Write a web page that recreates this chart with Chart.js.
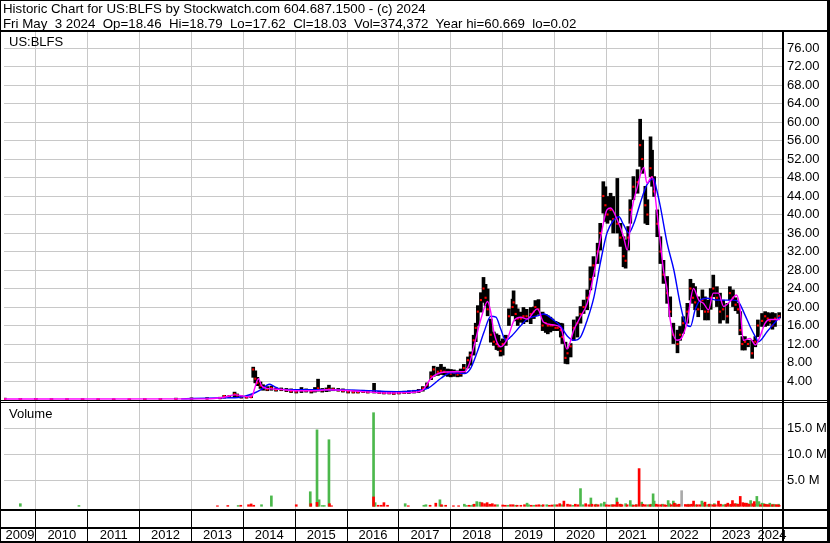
<!DOCTYPE html>
<html>
<head>
  <title>US:BLFS Historic Chart</title>
  <script src="https://cdn.jsdelivr.net/npm/chart.js"></script>
  <style>
    body { margin: 0; background: #fff; font-family: "Liberation Sans", Arial, sans-serif; }
    .wrap { position: relative; width: 830px; height: 543px; overflow: hidden; }
    canvas { position: absolute; left: 0; top: 0; }
    .hdr { position: absolute; left: 3px; top: 1px; font-size: 13.3px; line-height: 15px; white-space: pre; color: #000; }
    .lbl { position: absolute; font-size: 13px; line-height: 15px; color: #000; }
  </style>
</head>
<body>
  <div class="wrap">
    <canvas id="chart" width="830" height="543"></canvas>
    <div class="hdr">Historic Chart for US:BLFS by Stockwatch.com 604.687.1500 - (c) 2024
Fri May  3 2024  Op=18.46  Hi=18.79  Lo=17.62  Cl=18.03  Vol=374,372  Year hi=60.669  lo=0.02</div>
    <div class="lbl" style="left:9px; top:34px">US:BLFS</div>
    <div class="lbl" style="left:9px; top:406px">Volume</div>
  </div>

  <script>
    // visible date range (decimal years)
    const X_MIN = 2009.385, X_MAX = 2024.385;
    const yearLabels = ['2009','2010','2011','2012','2013','2014','2015','2016','2017','2018','2019','2020','2021','2022','2023','2024'];
    const priceTicks = [4, 8, 12, 16, 20, 24, 28, 32, 36, 40, 44, 48, 52, 56, 60, 64, 68, 72, 76];
    const volumeTicks = [5, 10, 15]; // millions

    // price bars: date, high, low, close
    const barYears = [2009.40,2009.70,2010.00,2010.30,2010.60,2010.90,2011.20,2011.50,2011.80,2012.10,2012.40,2012.70,2013.00,2013.30,2013.55,
      2013.63,2013.73,2013.83,2013.88,2013.96,2014.06,2014.15,2014.19,2014.23,2014.27,2014.33,2014.38,2014.46,2014.54,2014.63,2014.73,2014.83,2014.92,
      2015.02,2015.12,2015.21,2015.31,2015.38,2015.44,2015.52,2015.60,2015.65,2015.73,2015.83,2015.92,2016.02,2016.12,2016.21,2016.31,2016.40,2016.52,
      2016.62,2016.71,2016.81,2016.90,2017.00,2017.10,2017.19,2017.29,2017.38,2017.46,2017.54,2017.62,2017.67,2017.75,2017.81,2017.87,2017.94,
      2018.00,2018.06,2018.13,2018.19,2018.25,2018.33,2018.38,2018.44,2018.48,2018.52,2018.58,2018.63,2018.67,2018.71,2018.77,2018.83,2018.88,2018.92,2018.96,
      2019.00,2019.06,2019.12,2019.19,2019.21,2019.25,2019.29,2019.35,2019.40,2019.46,2019.54,2019.60,2019.63,2019.69,2019.77,2019.83,2019.87,2019.92,2019.96,
      2020.02,2020.06,2020.12,2020.15,2020.21,2020.25,2020.31,2020.37,2020.44,2020.50,2020.56,2020.63,2020.69,2020.75,2020.83,2020.88,2020.94,2020.98,
      2021.02,2021.08,2021.13,2021.21,2021.27,2021.33,2021.37,2021.42,2021.46,2021.52,2021.60,2021.65,2021.69,2021.75,2021.79,2021.85,2021.88,2021.92,2021.98,
      2022.04,2022.10,2022.17,2022.23,2022.29,2022.37,2022.42,2022.48,2022.56,2022.62,2022.67,2022.71,2022.77,2022.85,2022.90,2022.96,
      2023.01,2023.06,2023.13,2023.19,2023.25,2023.33,2023.38,2023.44,2023.49,2023.54,2023.58,2023.62,2023.67,2023.73,2023.81,2023.87,2023.92,
      2024.00,2024.06,2024.11,2024.15,2024.20,2024.25,2024.33];
    const barHigh = [0.30,0.25,0.25,0.20,0.20,0.20,0.18,0.15,0.15,0.20,0.25,0.30,0.35,0.40,0.50,
      0.90,0.90,1.60,1.20,0.80,0.70,0.80,7.00,6.20,4.80,3.80,3.20,2.80,2.90,2.50,2.50,2.40,2.30,
      2.20,2.60,2.30,2.20,2.60,4.40,2.40,2.50,3.10,2.50,2.40,2.30,2.00,2.00,1.90,2.00,1.90,3.50,
      1.80,1.70,1.70,1.60,1.70,1.80,1.90,2.00,2.20,2.80,3.60,6.00,7.20,7.00,7.60,7.00,6.60,
      6.50,6.40,6.20,6.60,7.60,9.20,10.30,13.90,16.50,20.30,23.10,26.40,24.90,23.90,17.40,14.60,14.20,13.90,12.60,
      13.10,13.90,19.60,21.70,23.50,20.50,19.60,18.90,19.90,19.50,19.90,20.00,21.40,21.60,18.90,18.40,18.10,17.80,17.40,
      16.90,16.70,16.50,16.40,12.40,11.00,12.10,17.20,17.90,20.10,21.50,23.70,28.70,30.90,33.80,38.10,47.10,46.00,
      43.90,44.60,43.90,47.80,38.10,35.20,34.50,37.40,43.20,48.20,49.70,60.60,56.10,46.10,43.20,56.80,53.90,48.20,41.00,
      35.20,30.10,26.60,22.20,16.50,15.00,15.80,17.90,20.80,26.00,25.10,24.40,22.20,23.70,22.20,21.50,
      24.00,26.90,24.40,23.00,21.50,20.80,24.40,23.70,22.00,20.80,19.00,13.60,13.60,12.80,12.80,13.60,17.20,
      18.60,19.00,18.80,18.60,18.80,18.60,18.79];
    const barLow = [0.05,0.05,0.04,0.03,0.03,0.02,0.02,0.02,0.02,0.02,0.03,0.05,0.08,0.10,0.15,
      0.30,0.40,0.60,0.50,0.30,0.30,0.40,4.80,3.60,3.00,2.40,2.00,1.90,2.00,1.80,1.90,1.70,1.50,
      1.40,1.50,1.60,1.40,1.60,1.80,1.60,1.70,1.80,1.90,1.80,1.60,1.40,1.40,1.40,1.50,1.40,1.40,
      1.30,1.20,1.20,1.10,1.20,1.30,1.30,1.40,1.50,1.80,2.40,4.30,5.00,5.20,5.40,5.30,5.00,
      4.90,5.00,4.90,5.00,5.60,6.80,7.40,9.60,12.50,16.00,18.90,21.00,20.30,18.10,12.40,11.70,10.80,10.60,9.40,
      9.60,11.70,16.00,18.10,19.00,17.00,16.00,16.70,16.40,16.80,16.40,17.50,18.10,18.40,14.90,14.50,14.20,14.60,14.90,
      14.90,14.90,13.50,12.10,7.80,7.70,9.20,12.80,13.50,16.50,18.60,19.40,23.70,26.60,29.40,32.30,40.30,38.50,
      38.10,38.80,36.00,36.00,33.10,28.70,28.40,32.30,38.10,43.20,44.60,50.40,48.90,38.10,37.80,48.20,46.10,43.90,35.20,
      29.40,25.10,20.80,17.90,12.10,10.10,12.80,14.30,16.50,21.50,20.80,19.40,17.90,19.40,17.20,17.20,
      19.50,22.20,20.10,16.50,17.20,16.50,21.50,20.10,19.20,18.60,14.00,10.70,10.70,11.40,8.90,11.40,13.60,
      15.80,15.80,16.00,16.50,15.20,15.80,17.62];
    const barClose = [0.10,0.10,0.08,0.08,0.06,0.05,0.05,0.05,0.05,0.06,0.08,0.10,0.15,0.20,0.30,
      0.75,0.70,1.20,0.90,0.50,0.45,0.50,6.50,4.50,3.60,3.00,2.50,2.20,2.50,2.10,2.20,2.00,1.80,
      1.70,2.00,1.90,1.80,2.00,2.40,2.00,2.10,2.20,2.20,2.00,1.90,1.70,1.60,1.60,1.70,1.60,1.80,
      1.50,1.40,1.40,1.30,1.40,1.50,1.60,1.70,1.90,2.40,3.20,5.00,6.50,6.00,6.20,6.00,5.80,
      5.60,5.80,5.40,5.60,6.80,8.50,9.60,12.80,15.50,19.00,21.50,24.00,22.00,19.50,14.00,12.50,12.00,11.50,10.50,
      12.00,13.00,18.00,20.00,21.00,18.50,17.50,17.50,18.00,18.00,18.50,19.00,20.00,19.50,16.00,16.50,16.00,16.00,16.00,
      15.50,15.50,15.00,13.50,9.00,10.00,11.50,15.50,16.50,18.50,20.00,22.00,26.00,29.00,32.00,36.00,44.00,42.00,
      40.00,41.00,39.00,38.00,35.00,31.00,30.00,35.00,41.00,46.00,47.00,55.00,52.00,42.00,40.00,50.00,48.00,45.00,38.00,
      32.00,27.00,23.00,19.00,14.00,12.00,14.00,16.50,19.00,24.00,22.00,21.00,19.50,21.50,19.00,19.00,
      22.00,24.00,22.00,19.00,19.50,18.00,23.00,22.00,20.50,19.50,15.00,12.00,12.50,12.00,10.00,12.50,16.00,
      17.00,18.00,17.50,17.00,16.00,17.50,18.03];

    // moving averages
    const maFastYears = [2009.39,2013.30,2013.60,2013.85,2014.10,2014.17,2014.22,2014.29,2014.35,2014.45,2014.70,2015.00,2015.40,2015.60,2015.90,
      2016.30,2016.80,2017.20,2017.45,2017.62,2017.80,2018.06,2018.26,2018.35,2018.45,2018.58,2018.71,2018.77,2018.83,2018.96,
      2019.09,2019.22,2019.35,2019.47,2019.67,2019.79,2019.99,2020.12,2020.24,2020.37,2020.50,2020.63,2020.76,2020.88,
      2021.01,2021.08,2021.21,2021.33,2021.40,2021.49,2021.59,2021.72,2021.78,2021.88,2021.97,2022.04,2022.10,2022.17,2022.23,
      2022.36,2022.46,2022.55,2022.68,2022.78,2022.87,2022.97,2023.06,2023.16,2023.26,2023.38,2023.51,2023.58,2023.64,2023.77,
      2023.87,2023.96,2024.06,2024.15,2024.35];
    const maFast = [0.10,0.15,0.45,1.00,0.60,0.80,2.50,4.50,3.00,2.40,2.20,1.90,1.90,2.10,2.00,
      1.70,1.40,1.50,2.00,4.60,5.80,6.00,6.00,7.50,11.70,17.40,21.20,18.90,14.60,11.40,
      13.10,17.10,17.80,17.40,19.60,16.70,16.10,15.50,10.90,15.00,17.90,20.80,27.30,34.50,
      41.00,41.40,38.80,35.20,32.30,41.00,45.70,50.20,46.80,48.20,41.00,33.80,28.00,23.70,17.20,
      12.80,13.50,16.50,24.00,21.50,20.80,19.40,23.00,23.00,20.10,21.20,22.60,19.40,12.80,13.20,
      11.80,13.60,16.50,17.30,17.30];
    const maSlowYears = [2012.80,2013.50,2013.90,2014.19,2014.35,2014.50,2014.60,2014.73,2015.50,2016.01,2016.97,2017.29,2017.55,2017.81,
      2018.00,2018.26,2018.38,2018.51,2018.64,2018.77,2018.87,2018.96,2019.06,2019.15,2019.35,2019.47,2019.67,2019.79,2019.99,
      2020.12,2020.24,2020.37,2020.50,2020.63,2020.76,2020.88,2021.01,2021.14,2021.24,2021.33,2021.43,2021.53,2021.65,2021.78,
      2021.91,2021.97,2022.04,2022.17,2022.30,2022.42,2022.52,2022.62,2022.71,2022.81,2022.94,2023.13,2023.45,2023.54,2023.67,
      2023.77,2023.87,2023.93,2024.10,2024.29,2024.35];
    const maSlow = [0.15,0.35,0.45,1.30,2.20,3.30,2.80,2.20,2.10,2.05,1.70,1.90,2.40,4.60,
      5.80,5.60,6.70,10.30,14.60,18.00,17.80,15.30,12.80,13.50,16.00,17.40,18.10,18.50,17.10,
      15.80,13.80,12.80,13.50,17.20,22.20,29.40,36.00,38.80,39.50,37.80,36.00,38.10,42.40,46.40,
      47.80,45.30,41.70,33.80,28.00,20.80,16.50,15.80,19.40,21.50,21.90,21.50,21.50,21.20,18.30,
      15.80,13.60,12.50,14.70,17.20,17.90];

    // volume in millions, split by up / down / unchanged sessions
    const upVolYears = [2009.70,2010.83,2013.90,2014.35,2014.54,2015.29,2015.42,2015.46,2015.52,2015.56,2015.65,2016.51,2016.54,2017.12,2017.48,
      2017.52,2017.79,2017.83,2018.26,2018.30,2018.39,2018.43,2018.50,2018.56,2018.70,2018.90,2019.10,2019.25,2019.47,2019.50,2019.60,2019.75,
      2019.85,2020.00,2020.15,2020.35,2020.50,2020.55,2020.70,2020.80,2020.90,2020.96,2021.10,2021.20,2021.28,2021.37,2021.46,2021.50,2021.58,
      2021.68,2021.80,2021.86,2021.90,2021.92,2022.08,2022.19,2022.22,2022.29,2022.33,2022.40,2022.58,2022.72,2022.84,2022.88,2022.95,
      2023.00,2023.08,2023.25,2023.30,2023.38,2023.50,2023.55,2023.72,2023.78,2023.86,2023.90,2023.94,2024.00,2024.03,2024.08,2024.15,
      2024.18,2024.22,2024.25,2024.32];
    const upVol = [0.5,0.15,0.15,0.3,2.0,2.8,14.7,1.25,0.15,0.15,12.8,18.0,0.7,0.5,0.2,
      0.3,1.25,0.15,0.4,0.15,0.15,0.3,0.9,0.8,0.3,0.3,0.2,0.2,0.6,0.3,0.2,0.2,
      0.3,0.3,0.3,0.2,3.4,0.3,1.6,0.4,0.5,0.8,0.3,1.6,0.4,0.5,1.1,0.3,0.3,
      0.8,0.3,0.4,2.4,1.0,0.4,1.1,0.5,1.0,0.5,0.3,0.4,0.3,1.0,0.6,0.3,
      0.4,0.5,0.3,0.4,0.3,0.5,0.4,0.5,1.1,0.4,1.9,0.9,0.6,0.5,0.4,0.6,
      0.3,0.4,0.3,0.4];
    const downVolYears = [2013.50,2013.70,2013.95,2014.10,2014.15,2014.20,2015.02,2015.30,2015.42,2015.66,2015.70,2016.51,2016.60,2016.66,2016.71,
      2016.78,2017.18,2017.60,2017.71,2017.82,2017.90,2018.05,2018.15,2018.35,2018.45,2018.60,2018.65,2018.70,2018.75,2018.80,2018.85,
      2019.00,2019.05,2019.15,2019.20,2019.28,2019.35,2019.42,2019.55,2019.65,2019.70,2019.78,2019.90,2019.95,2020.05,2020.10,2020.18,
      2020.25,2020.30,2020.40,2020.45,2020.60,2020.66,2020.72,2020.78,2020.84,2021.00,2021.05,2021.12,2021.16,2021.21,2021.26,2021.30,
      2021.40,2021.52,2021.57,2021.63,2021.70,2021.75,2021.84,2021.96,2022.00,2022.05,2022.12,2022.15,2022.25,2022.31,2022.36,2022.40,
      2022.52,2022.56,2022.60,2022.64,2022.68,2022.75,2022.80,2022.90,2022.98,2023.05,2023.10,2023.16,2023.20,2023.30,2023.34,2023.40,
      2023.43,2023.47,2023.53,2023.58,2023.63,2023.66,2023.70,2023.75,2023.82,2023.85,2023.97,2024.05,2024.10,2024.13,2024.20,2024.27,
      2024.30,2024.33];
    const downVol = [0.1,0.15,0.2,0.3,0.45,0.2,0.3,0.5,0.75,0.5,0.1,1.8,0.2,0.2,0.7,
      0.2,0.1,0.2,0.6,0.3,0.2,0.1,0.1,0.2,0.4,0.7,0.5,0.7,0.4,0.5,0.3,
      0.25,0.2,0.3,0.3,0.2,0.2,0.3,0.2,0.25,0.3,0.3,0.2,0.25,0.3,0.5,1.0,
      0.4,0.3,0.4,0.3,0.5,0.3,0.4,0.3,0.3,0.3,0.25,0.3,0.3,0.8,0.4,0.3,
      0.3,0.2,0.3,7.25,0.4,0.3,0.3,0.4,0.3,0.3,0.3,0.2,0.3,0.6,0.3,0.4,
      0.35,0.3,0.3,0.4,1.0,0.3,0.3,0.8,0.4,0.3,0.3,1.0,0.4,0.3,0.6,0.4,
      1.1,0.5,0.4,1.9,0.7,0.6,0.6,0.4,0.5,0.9,0.3,0.4,0.3,0.3,0.3,0.3,
      0.25,0.2];
    const flatVolYears = [2022.45];
    const flatVol = [3.0];

    const GRID = '#c8c8c8';
    const xTicks = [];
    yearLabels.forEach(y => {
      const yr = Number(y);
      if (yr >= X_MIN) xTicks.push(yr);
      const lo = Math.max(yr, X_MIN), hi = Math.min(yr + 1, X_MAX);
      xTicks.push((lo + hi) / 2 + 0.0001);
    });
    const isYearLine = v => Number.isInteger(v);

    const xy = (xs, ys) => xs.map((x, i) => ({ x, y: ys[i] }));

    const frame = {
      id: 'frame',
      beforeDraw(c) {
        const g = c.ctx;
        g.save(); g.fillStyle = '#fff'; g.fillRect(0, 0, c.width, c.height); g.restore();
      },
      afterDraw(c) {
        const g = c.ctx, a = c.chartArea, W = c.width, H = c.height;
        const volTop = c.scales.yVol.top;
        g.save();
        g.fillStyle = '#000';
        g.fillRect(0, 0, W, 1);
        g.fillRect(0, 0, 1, H);
        g.fillRect(W - 3, 0, 3, H);
        g.fillRect(0, H - 2, W, 2);
        g.fillRect(0, 30, W, 2);
        g.fillRect(a.right, 32, 2, H - 32);
        g.fillRect(0, volTop - 1, W, 1);
        g.fillRect(0, volTop + 1, W, 1);
        g.fillRect(0, a.bottom, W, 2);
        g.fillRect(0, a.bottom + 18, W, 2);
        g.restore();
      }
    };

    new Chart(document.getElementById('chart').getContext('2d'), {
      type: 'bar',
      data: {
        datasets: [
          { type: 'line', data: xy(maFastYears, maFast), yAxisID: 'yPrice', borderColor: '#ff00ff', borderWidth: 1.4,
            pointRadius: 0, cubicInterpolationMode: 'monotone', order: 0 },
          { type: 'line', data: xy(maSlowYears, maSlow), yAxisID: 'yPrice', borderColor: '#0000ff', borderWidth: 1.4,
            pointRadius: 0, cubicInterpolationMode: 'monotone', order: 0 },
          { type: 'line', data: xy(barYears, barClose), yAxisID: 'yPrice', showLine: false, pointStyle: 'rect',
            pointRadius: 1.5, backgroundColor: '#ff0000', borderWidth: 0, order: 1 },
          { data: barYears.map((x, i) => ({ x, y: [barLow[i], barHigh[i]] })), yAxisID: 'yPrice',
            backgroundColor: '#000', barThickness: 3, grouped: false, order: 2 },
          { data: xy(downVolYears, downVol), yAxisID: 'yVol', backgroundColor: '#ff0000', barThickness: 2, grouped: false, order: 3 },
          { data: xy(flatVolYears, flatVol), yAxisID: 'yVol', backgroundColor: '#aaaaaa', barThickness: 2, grouped: false, order: 4 },
          { data: xy(upVolYears, upVol), yAxisID: 'yVol', backgroundColor: '#4cb84c', barThickness: 2, grouped: false, order: 5 }
        ]
      },
      options: {
        responsive: false,
        animation: false,
        devicePixelRatio: 1,
        events: [],
        layout: { padding: { left: 2, right: 2, top: 32, bottom: 2 } },
        plugins: { legend: { display: false }, tooltip: { enabled: false } },
        scales: {
          x: {
            type: 'linear', min: X_MIN, max: X_MAX, offset: false,
            afterBuildTicks: s => { s.ticks = xTicks.map(v => ({ value: v })); },
            afterFit: s => { s.height = 32; },
            grid: {
              offset: false, tickLength: 32,
              color: ctx => isYearLine(ctx.tick.value) ? GRID : 'rgba(0,0,0,0)',
              tickColor: ctx => isYearLine(ctx.tick.value) ? '#000' : 'rgba(0,0,0,0)'
            },
            border: { display: false },
            ticks: {
              autoSkip: false, maxRotation: 0, padding: -13, color: '#000',
              font: { size: 13, family: '"Liberation Sans", Arial, sans-serif' },
              callback: v => isYearLine(v) ? '' : yearLabels[Math.floor(v) - 2009]
            }
          },
          yPrice: {
            type: 'linear', position: 'right', stack: 'panels', stackWeight: 369,
            min: -0.32, max: 79.46,
            afterBuildTicks: s => { s.ticks = priceTicks.map(v => ({ value: v })); },
            afterFit: s => { s.width = 46; },
            grid: { color: GRID, drawTicks: false },
            border: { display: false },
            ticks: { autoSkip: false, padding: 5, color: '#000',
              font: { size: 13, family: '"Liberation Sans", Arial, sans-serif' },
              callback: v => v.toFixed(2) }
          },
          yVol: {
            type: 'linear', position: 'right', stack: 'panels', stackWeight: 108,
            min: -0.52, max: 20.25,
            afterBuildTicks: s => { s.ticks = volumeTicks.map(v => ({ value: v })); },
            afterFit: s => { s.width = 46; },
            grid: { color: GRID, drawTicks: false },
            border: { display: false },
            ticks: { autoSkip: false, padding: 5, color: '#000',
              font: { size: 13, family: '"Liberation Sans", Arial, sans-serif' },
              callback: v => v.toFixed(1) + ' M' }
          }
        }
      },
      plugins: [frame]
    });
  </script>
</body>
</html>
